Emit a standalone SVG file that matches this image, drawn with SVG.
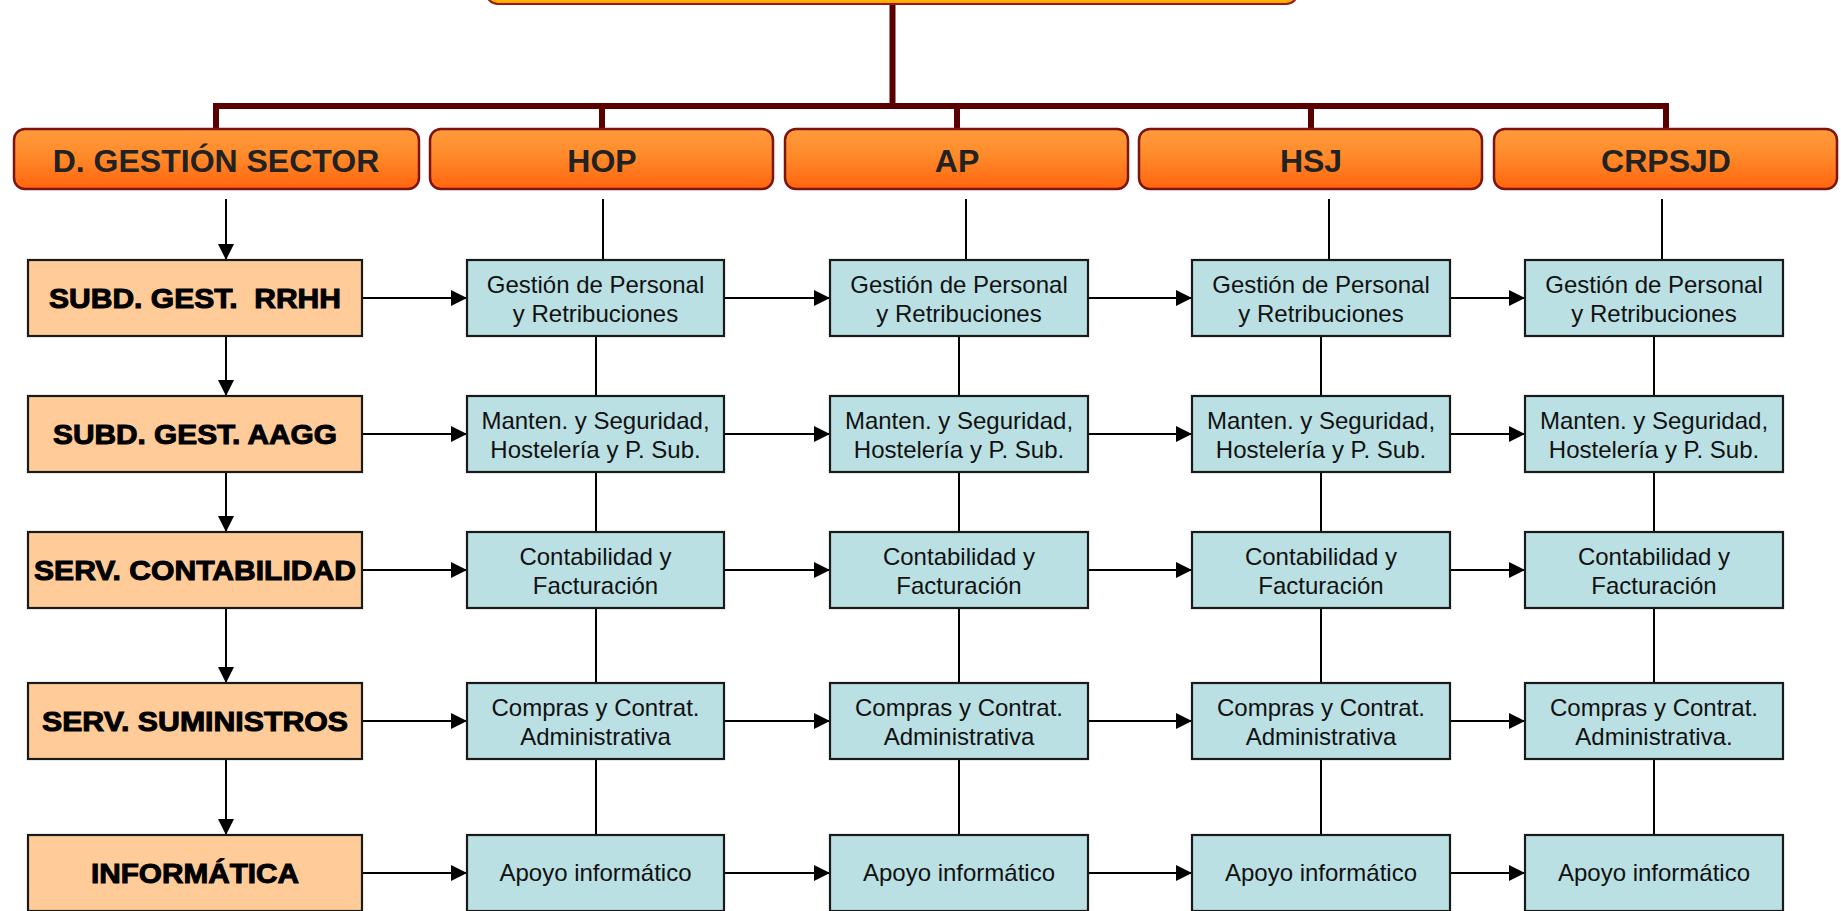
<svg xmlns="http://www.w3.org/2000/svg" width="1841" height="911" viewBox="0 0 1841 911">
<defs>
<linearGradient id="hg" x1="0" y1="0" x2="0" y2="1">
<stop offset="0" stop-color="#FF9B3C"/>
<stop offset="0.45" stop-color="#FF8A2A"/>
<stop offset="1" stop-color="#FF640E"/>
</linearGradient>
<linearGradient id="tg" x1="0" y1="0" x2="0" y2="1">
<stop offset="0" stop-color="#FFD000"/>
<stop offset="0.85" stop-color="#FFC000"/>
<stop offset="1" stop-color="#FF9900"/>
</linearGradient>
<marker id="arr" markerWidth="16" markerHeight="16" viewBox="0 0 16 16" refX="16" refY="8" orient="auto" markerUnits="userSpaceOnUse">
<path d="M0,0 L16,8 L0,16 Z" fill="#000"/>
</marker>
</defs>
<style>
.hdr{fill:url(#hg);stroke:#7E1410;stroke-width:2.5}
.hdrt{font-family:"Liberation Sans",Arial,sans-serif;font-weight:bold;font-size:32px;fill:#222;text-anchor:middle}
.lbox{fill:#FFCC99;stroke:#1a1a1a;stroke-width:2.2}
.lt{font-family:"Liberation Sans",Arial,sans-serif;font-weight:bold;font-size:27.5px;fill:#000;stroke:#000;stroke-width:1;text-anchor:middle;white-space:pre}
.tbox{fill:#BAE0E3;stroke:#1a1a1a;stroke-width:2.2}
.tt{font-family:"Liberation Sans",Arial,sans-serif;font-size:24px;fill:#111;text-anchor:middle}
.bar{stroke:#5A0000;stroke-width:6;fill:none}
.ln{stroke:#000;stroke-width:2;fill:none}
.ar{stroke:#000;stroke-width:2;fill:none;marker-end:url(#arr)}
</style>

<g id="connectors">
<line class="bar" x1="892.5" y1="0" x2="892.5" y2="109"/>
<line class="bar" x1="213" y1="106" x2="1669" y2="106"/>
<line class="bar" x1="216" y1="103" x2="216" y2="130"/>
<line class="bar" x1="602" y1="103" x2="602" y2="130"/>
<line class="bar" x1="957" y1="103" x2="957" y2="130"/>
<line class="bar" x1="1311" y1="103" x2="1311" y2="130"/>
<line class="bar" x1="1666" y1="103" x2="1666" y2="130"/>

<line class="ar" x1="226" y1="199" x2="226" y2="260"/>
<line class="ar" x1="226" y1="336" x2="226" y2="396"/>
<line class="ar" x1="226" y1="472" x2="226" y2="532"/>
<line class="ar" x1="226" y1="608" x2="226" y2="683"/>
<line class="ar" x1="226" y1="759" x2="226" y2="835"/>

<line class="ln" x1="603" y1="199" x2="603" y2="260"/>
<line class="ln" x1="966" y1="199" x2="966" y2="260"/>
<line class="ln" x1="1329" y1="199" x2="1329" y2="260"/>
<line class="ln" x1="1662" y1="199" x2="1662" y2="260"/>

<line class="ln" x1="596" y1="336" x2="596" y2="396"/>
<line class="ln" x1="596" y1="472" x2="596" y2="532"/>
<line class="ln" x1="596" y1="608" x2="596" y2="683"/>
<line class="ln" x1="596" y1="759" x2="596" y2="835"/>
<line class="ln" x1="959" y1="336" x2="959" y2="396"/>
<line class="ln" x1="959" y1="472" x2="959" y2="532"/>
<line class="ln" x1="959" y1="608" x2="959" y2="683"/>
<line class="ln" x1="959" y1="759" x2="959" y2="835"/>
<line class="ln" x1="1321" y1="336" x2="1321" y2="396"/>
<line class="ln" x1="1321" y1="472" x2="1321" y2="532"/>
<line class="ln" x1="1321" y1="608" x2="1321" y2="683"/>
<line class="ln" x1="1321" y1="759" x2="1321" y2="835"/>
<line class="ln" x1="1654" y1="336" x2="1654" y2="396"/>
<line class="ln" x1="1654" y1="472" x2="1654" y2="532"/>
<line class="ln" x1="1654" y1="608" x2="1654" y2="683"/>
<line class="ln" x1="1654" y1="759" x2="1654" y2="835"/>

<line class="ar" x1="362" y1="298" x2="467" y2="298"/>
<line class="ar" x1="724" y1="298" x2="830" y2="298"/>
<line class="ar" x1="1088" y1="298" x2="1192" y2="298"/>
<line class="ar" x1="1450" y1="298" x2="1525" y2="298"/>
<line class="ar" x1="362" y1="434" x2="467" y2="434"/>
<line class="ar" x1="724" y1="434" x2="830" y2="434"/>
<line class="ar" x1="1088" y1="434" x2="1192" y2="434"/>
<line class="ar" x1="1450" y1="434" x2="1525" y2="434"/>
<line class="ar" x1="362" y1="570" x2="467" y2="570"/>
<line class="ar" x1="724" y1="570" x2="830" y2="570"/>
<line class="ar" x1="1088" y1="570" x2="1192" y2="570"/>
<line class="ar" x1="1450" y1="570" x2="1525" y2="570"/>
<line class="ar" x1="362" y1="721" x2="467" y2="721"/>
<line class="ar" x1="724" y1="721" x2="830" y2="721"/>
<line class="ar" x1="1088" y1="721" x2="1192" y2="721"/>
<line class="ar" x1="1450" y1="721" x2="1525" y2="721"/>
<line class="ar" x1="362" y1="873" x2="467" y2="873"/>
<line class="ar" x1="724" y1="873" x2="830" y2="873"/>
<line class="ar" x1="1088" y1="873" x2="1192" y2="873"/>
<line class="ar" x1="1450" y1="873" x2="1525" y2="873"/>
</g>

<g id="top">
<rect x="486" y="-30" width="812" height="34" rx="12" fill="url(#tg)" stroke="#9A1A1A" stroke-width="2"/>
</g>

<g id="h-dgs"><rect class="hdr" x="14" y="129" width="405" height="60" rx="11"/><text class="hdrt" x="216" y="172">D. GESTIÓN SECTOR</text></g>
<g id="h-hop"><rect class="hdr" x="430" y="129" width="343" height="60" rx="11"/><text class="hdrt" x="602" y="172">HOP</text></g>
<g id="h-ap"><rect class="hdr" x="785" y="129" width="343" height="60" rx="11"/><text class="hdrt" x="957" y="172">AP</text></g>
<g id="h-hsj"><rect class="hdr" x="1139" y="129" width="343" height="60" rx="11"/><text class="hdrt" x="1311" y="172">HSJ</text></g>
<g id="h-crpsjd"><rect class="hdr" x="1494" y="129" width="343" height="60" rx="11"/><text class="hdrt" x="1666" y="172">CRPSJD</text></g>

<g id="l-rrhh"><rect class="lbox" x="28" y="260" width="334" height="76"/><text class="lt" x="195" y="308" textLength="292" lengthAdjust="spacingAndGlyphs" xml:space="preserve">SUBD. GEST.  RRHH</text></g>
<g id="l-aagg"><rect class="lbox" x="28" y="396" width="334" height="76"/><text class="lt" x="195" y="444" textLength="284" lengthAdjust="spacingAndGlyphs">SUBD. GEST. AAGG</text></g>
<g id="l-cont"><rect class="lbox" x="28" y="532" width="334" height="76"/><text class="lt" x="195" y="580" textLength="322" lengthAdjust="spacingAndGlyphs">SERV. CONTABILIDAD</text></g>
<g id="l-sum"><rect class="lbox" x="28" y="683" width="334" height="76"/><text class="lt" x="195" y="731" textLength="306" lengthAdjust="spacingAndGlyphs">SERV. SUMINISTROS</text></g>
<g id="l-inf"><rect class="lbox" x="28" y="835" width="334" height="76"/><text class="lt" x="195" y="883" textLength="208" lengthAdjust="spacingAndGlyphs">INFORMÁTICA</text></g>

<g id="hop-1"><rect class="tbox" x="467" y="260" width="257" height="76"/><text class="tt" x="595.5" y="293">Gestión de Personal</text><text class="tt" x="595.5" y="322">y Retribuciones</text></g>
<g id="hop-2"><rect class="tbox" x="467" y="396" width="257" height="76"/><text class="tt" x="595.5" y="429">Manten. y Seguridad,</text><text class="tt" x="595.5" y="458">Hostelería y P. Sub.</text></g>
<g id="hop-3"><rect class="tbox" x="467" y="532" width="257" height="76"/><text class="tt" x="595.5" y="565">Contabilidad y</text><text class="tt" x="595.5" y="594">Facturación</text></g>
<g id="hop-4"><rect class="tbox" x="467" y="683" width="257" height="76"/><text class="tt" x="595.5" y="716">Compras y Contrat.</text><text class="tt" x="595.5" y="745">Administrativa</text></g>
<g id="hop-5"><rect class="tbox" x="467" y="835" width="257" height="76"/><text class="tt" x="595.5" y="881">Apoyo informático</text></g>

<g id="ap-1"><rect class="tbox" x="830" y="260" width="258" height="76"/><text class="tt" x="959" y="293">Gestión de Personal</text><text class="tt" x="959" y="322">y Retribuciones</text></g>
<g id="ap-2"><rect class="tbox" x="830" y="396" width="258" height="76"/><text class="tt" x="959" y="429">Manten. y Seguridad,</text><text class="tt" x="959" y="458">Hostelería y P. Sub.</text></g>
<g id="ap-3"><rect class="tbox" x="830" y="532" width="258" height="76"/><text class="tt" x="959" y="565">Contabilidad y</text><text class="tt" x="959" y="594">Facturación</text></g>
<g id="ap-4"><rect class="tbox" x="830" y="683" width="258" height="76"/><text class="tt" x="959" y="716">Compras y Contrat.</text><text class="tt" x="959" y="745">Administrativa</text></g>
<g id="ap-5"><rect class="tbox" x="830" y="835" width="258" height="76"/><text class="tt" x="959" y="881">Apoyo informático</text></g>

<g id="hsj-1"><rect class="tbox" x="1192" y="260" width="258" height="76"/><text class="tt" x="1321" y="293">Gestión de Personal</text><text class="tt" x="1321" y="322">y Retribuciones</text></g>
<g id="hsj-2"><rect class="tbox" x="1192" y="396" width="258" height="76"/><text class="tt" x="1321" y="429">Manten. y Seguridad,</text><text class="tt" x="1321" y="458">Hostelería y P. Sub.</text></g>
<g id="hsj-3"><rect class="tbox" x="1192" y="532" width="258" height="76"/><text class="tt" x="1321" y="565">Contabilidad y</text><text class="tt" x="1321" y="594">Facturación</text></g>
<g id="hsj-4"><rect class="tbox" x="1192" y="683" width="258" height="76"/><text class="tt" x="1321" y="716">Compras y Contrat.</text><text class="tt" x="1321" y="745">Administrativa</text></g>
<g id="hsj-5"><rect class="tbox" x="1192" y="835" width="258" height="76"/><text class="tt" x="1321" y="881">Apoyo informático</text></g>

<g id="crp-1"><rect class="tbox" x="1525" y="260" width="258" height="76"/><text class="tt" x="1654" y="293">Gestión de Personal</text><text class="tt" x="1654" y="322">y Retribuciones</text></g>
<g id="crp-2"><rect class="tbox" x="1525" y="396" width="258" height="76"/><text class="tt" x="1654" y="429">Manten. y Seguridad,</text><text class="tt" x="1654" y="458">Hostelería y P. Sub.</text></g>
<g id="crp-3"><rect class="tbox" x="1525" y="532" width="258" height="76"/><text class="tt" x="1654" y="565">Contabilidad y</text><text class="tt" x="1654" y="594">Facturación</text></g>
<g id="crp-4"><rect class="tbox" x="1525" y="683" width="258" height="76"/><text class="tt" x="1654" y="716">Compras y Contrat.</text><text class="tt" x="1654" y="745">Administrativa.</text></g>
<g id="crp-5"><rect class="tbox" x="1525" y="835" width="258" height="76"/><text class="tt" x="1654" y="881">Apoyo informático</text></g>
</svg>
